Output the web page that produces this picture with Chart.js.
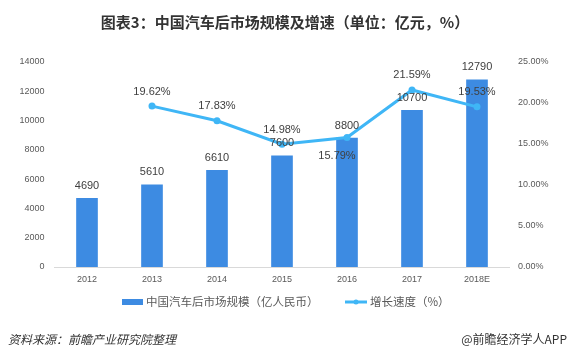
<!DOCTYPE html>
<html><head><meta charset="utf-8">
<script src="https://cdn.jsdelivr.net/npm/chart.js@4.4.1/dist/chart.umd.min.js"></script>
<style>html,body{margin:0;padding:0;background:#fff;overflow:hidden}canvas{display:block}</style>
</head><body>
<canvas id="c" width="575" height="357"></canvas>
<script>
const categories = ['2012','2013','2014','2015','2016','2017','2018E'];
const marketSize = [4690, 5610, 6610, 7600, 8800, 10700, 12790];
const growthRate = [null, 19.62, 17.83, 14.98, 15.79, 21.59, 19.53];
const sizeLabel = '中国汽车后市场规模（亿人民币）';
const rateLabel = '增长速度（%）';
const titleText = '图表3：中国汽车后市场规模及增速（单位：亿元，%）';
const sourceText = '资料来源：前瞻产业研究院整理';
const brandText = '@前瞻经济学人APP';

const BAR = '#3d8be2';
const LINE = '#3fb6f6';
const TICK = '#595959';
const NUM = "'Liberation Sans', Arial, sans-serif";
const CJK = "'Noto Sans CJK SC', 'Noto Sans', sans-serif";

const overlay = {
  id: 'overlay',
  afterDatasetsDraw(chart) {
    const ctx = chart.ctx;
    ctx.save();
    ctx.textAlign = 'center';
    ctx.textBaseline = 'middle';
    ctx.fillStyle = '#404040';
    ctx.font = '11px ' + NUM;
    const bm = chart.getDatasetMeta(0);
    bm.data.forEach((el, i) => {
      ctx.fillText(String(marketSize[i]), el.x, el.y - 12.5);
    });
    const lm = chart.getDatasetMeta(1);
    lm.data.forEach((el, i) => {
      const v = growthRate[i];
      if (v === null) return;
      const t = v.toFixed(2) + '%';
      if (i === 4) ctx.fillText(t, el.x - 10, el.y + 18.5);
      else ctx.fillText(t, el.x, el.y - 14.5);
    });
    ctx.restore();
  },
  afterDraw(chart) {
    const ctx = chart.ctx;
    ctx.save();
    ctx.fillStyle = '#333333';
    ctx.font = 'bold 15px ' + CJK;
    ctx.textAlign = 'center';
    ctx.textBaseline = 'middle';
    ctx.fillText(titleText, 285, 22);
    ctx.textAlign = 'left';
    ctx.fillStyle = BAR;
    ctx.fillRect(122, 299, 21, 6);
    ctx.fillStyle = TICK;
    ctx.font = '11.5px ' + CJK;
    ctx.fillText(sizeLabel, 146, 302);
    ctx.strokeStyle = LINE;
    ctx.lineWidth = 3;
    ctx.beginPath(); ctx.moveTo(345, 302); ctx.lineTo(367, 302); ctx.stroke();
    ctx.fillStyle = LINE;
    ctx.beginPath(); ctx.arc(356, 302, 2.5, 0, Math.PI * 2); ctx.fill();
    ctx.fillStyle = TICK;
    ctx.fillText(rateLabel, 370, 302);
    ctx.fillStyle = '#333333';
    ctx.font = 'italic 12px ' + CJK;
    ctx.fillText(sourceText, 8, 339);
    ctx.font = '12px ' + CJK;
    ctx.textAlign = 'right';
    ctx.fillText(brandText, 567, 339);
    ctx.restore();
  }
};

new Chart(document.getElementById('c'), {
  data: {
    labels: categories,
    datasets: [
      { type: 'bar', label: sizeLabel, data: marketSize, backgroundColor: BAR,
        barThickness: 21, yAxisID: 'y', order: 2 },
      { type: 'line', label: rateLabel, data: growthRate, borderColor: LINE,
        backgroundColor: LINE, borderWidth: 3, pointRadius: 3.5, pointHoverRadius: 3.5,
        pointBackgroundColor: LINE, pointBorderWidth: 0, tension: 0, yAxisID: 'y1', order: 1 }
    ]
  },
  options: {
    responsive: false,
    animation: false,
    events: [],
    layout: { padding: { top: 62, left: 0, right: 0, bottom: 0 } },
    plugins: { legend: { display: false }, title: { display: false }, tooltip: { enabled: false } },
    scales: {
      x: {
        offset: true,
        grid: { display: false, drawTicks: false },
        border: { display: true, color: '#d9d9d9', width: 1 },
        ticks: { color: TICK, font: { size: 9, family: NUM }, padding: 7, maxRotation: 0 },
        afterFit(s) { s.height = 90; }
      },
      y: {
        position: 'left', min: 0, max: 14000,
        grid: { display: false, drawTicks: false },
        border: { display: false },
        ticks: { stepSize: 2000, color: TICK, font: { size: 9, family: NUM }, padding: 10,
          callback: v => String(v) },
        afterFit(s) { s.width = 54.5; }
      },
      y1: {
        position: 'right', min: 0, max: 25,
        grid: { display: false, drawTicks: false },
        border: { display: false },
        ticks: { stepSize: 5, color: TICK, font: { size: 9, family: NUM }, padding: 8.5,
          callback: v => Number(v).toFixed(2) + '%' },
        afterFit(s) { s.width = 65.5; }
      }
    }
  },
  plugins: [overlay]
});
</script>
</body></html>
